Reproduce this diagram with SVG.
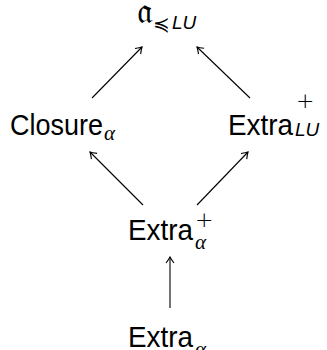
<svg xmlns="http://www.w3.org/2000/svg" width="327" height="350" viewBox="0 0 327 350">
<style>
.t{font-family:"Liberation Sans",Arial,sans-serif;font-size:30px;fill:#000}
.s{font-family:"DejaVu Sans",sans-serif;font-weight:200;font-size:22px;fill:#000}
.g{font-family:"Liberation Serif","DejaVu Serif",serif;font-style:italic;font-size:21px;fill:#000}
.i{font-family:"Liberation Sans",Arial,sans-serif;font-style:italic;font-size:19px;fill:#000}
.e{stroke:#000;stroke-width:1.1;fill:none;marker-end:url(#ah)}
</style>
<defs>
<marker id="ah" viewBox="-8 -5 10 10" refX="0" refY="0" markerWidth="10" markerHeight="10" markerUnits="userSpaceOnUse" orient="auto">
<path d="M-6,-4 Q-2,-1 0,0 Q-2,1 -6,4" fill="none" stroke="#000" stroke-width="1.1"/>
</marker>
</defs>
<g id="connectors">
<line class="e" x1="92" y1="98" x2="142" y2="47"/>
<line class="e" x1="250" y1="98" x2="197" y2="47"/>
<line class="e" x1="143" y1="205" x2="90" y2="152"/>
<line class="e" x1="197" y1="205" x2="248" y2="152"/>
<line class="e" x1="170" y1="308" x2="170" y2="257"/>
</g>
<g id="top">
<text x="137" y="23" font-family="DejaVu Serif,serif" font-size="36px">𝔞</text>
<text x="153" y="31" font-family="DejaVu Sans,sans-serif" font-size="20px">≼</text>
<text class="i" x="172" y="29" font-size="18px">LU</text>
</g>
<g id="closure">
<text class="t" x="10" y="135" textLength="93" lengthAdjust="spacingAndGlyphs">Closure</text>
<text class="g" x="104" y="140">α</text>
</g>
<g id="extraLU">
<text class="t" x="228" y="135" textLength="65" lengthAdjust="spacingAndGlyphs">Extra</text>
<text class="s" x="296" y="108">+</text>
<text class="i" x="295" y="136">LU</text>
</g>
<g id="extraPlus">
<text class="t" x="128" y="240" textLength="65" lengthAdjust="spacingAndGlyphs">Extra</text>
<text class="s" x="195" y="227">+</text>
<text class="g" x="195" y="249">α</text>
</g>
<g id="extra">
<text class="t" x="128" y="347" textLength="65" lengthAdjust="spacingAndGlyphs">Extra</text>
<text class="g" x="195" y="356">α</text>
</g>
</svg>
